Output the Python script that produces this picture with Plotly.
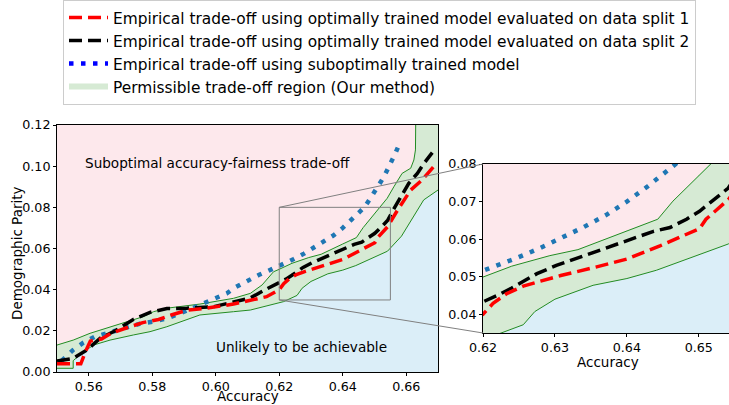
import plotly.graph_objects as go

# ---------------- data ----------------
red_acc = [0.550, 0.5575, 0.5590, 0.5605, 0.5640, 0.5670, 0.5720, 0.5770, 0.5820, 0.5860,
           0.5910, 0.5970, 0.6056, 0.6110, 0.6160, 0.6200, 0.6214, 0.6233, 0.6256, 0.6280,
           0.6308, 0.6358, 0.6400, 0.6446, 0.6501, 0.6510, 0.6541, 0.6572, 0.6614, 0.6650, 0.6685]
red_dp = [0.0040, 0.0040, 0.0100, 0.0150, 0.0160, 0.0188, 0.0215, 0.0240, 0.0255, 0.0277,
          0.0300, 0.0310, 0.0330, 0.0347, 0.0366, 0.0400, 0.0429, 0.0455, 0.0475, 0.0488,
          0.0503, 0.0526, 0.0547, 0.0582, 0.0628, 0.0653, 0.0705, 0.0785, 0.0884, 0.0933, 0.0995]

black_acc = [0.550, 0.5551, 0.5594, 0.5636, 0.5688, 0.5740, 0.5793, 0.5846, 0.5909, 0.5993,
             0.6056, 0.6109, 0.6162, 0.6200, 0.6221, 0.6240, 0.6275, 0.6302, 0.6335, 0.6381,
             0.6408, 0.6436, 0.6460, 0.6483, 0.6501, 0.6525, 0.6541, 0.6556, 0.6582, 0.6608,
             0.6635, 0.6656, 0.6682]
black_dp = [0.0053, 0.0066, 0.0107, 0.0164, 0.0204, 0.0255, 0.0290, 0.0308, 0.0310, 0.0317,
            0.0340, 0.0360, 0.0405, 0.0433, 0.0451, 0.0470, 0.0508, 0.0530, 0.0552, 0.0582,
            0.0600, 0.0620, 0.0631, 0.0653, 0.0674, 0.0710, 0.0736, 0.0779, 0.0844, 0.0917,
            0.0965, 0.1014, 0.1066]

blue_acc = [0.5515, 0.5551, 0.5583, 0.5620, 0.5657, 0.5730, 0.5762, 0.5804, 0.5846, 0.5888,
            0.5950, 0.5993, 0.6035, 0.6061, 0.6098, 0.6135, 0.6172, 0.6212, 0.6246, 0.6278,
            0.6309, 0.6340, 0.6371, 0.6400, 0.6428, 0.6455, 0.6468, 0.6487, 0.6530, 0.6566, 0.6580]
blue_dp = [0.0055, 0.0107, 0.0142, 0.0172, 0.0188, 0.0217, 0.0235, 0.0245, 0.0260, 0.0285,
           0.0328, 0.0352, 0.0382, 0.0411, 0.0444, 0.0471, 0.0496, 0.0523, 0.0549, 0.0575,
           0.0603, 0.0632, 0.0664, 0.0700, 0.0739, 0.0781, 0.0800, 0.0844, 0.0949, 0.1063, 0.1114]

upper_acc = [0.550, 0.5551, 0.5604, 0.5667, 0.5720, 0.5772, 0.5804, 0.5846, 0.5950, 0.6056,
             0.6109, 0.6146, 0.6182, 0.6200, 0.6240, 0.6293, 0.6332, 0.6400, 0.6443, 0.6464,
             0.6515, 0.6540, 0.6561, 0.6587, 0.6614, 0.6624, 0.6629, 0.6630]
upper_dp = [0.0131, 0.0155, 0.0188, 0.0220, 0.0244, 0.0269, 0.0293, 0.0310, 0.0330, 0.0358,
            0.0382, 0.0423, 0.0487, 0.0499, 0.0528, 0.0556, 0.0572, 0.0622, 0.0653, 0.0701,
            0.0800, 0.0844, 0.0900, 0.0965, 0.0990, 0.1030, 0.1079, 0.1250]

lower_acc = [0.550, 0.5551, 0.5551, 0.5578, 0.5615, 0.5667, 0.5741, 0.5793, 0.5846, 0.5909,
             0.5950, 0.6056, 0.6109, 0.6214, 0.6231, 0.6256, 0.6272, 0.6300, 0.6353, 0.6400,
             0.6441, 0.6541, 0.6585, 0.6620, 0.6655, 0.6700]
lower_dp = [0.0018, 0.0018, 0.0055, 0.0091, 0.0131, 0.0155, 0.0180, 0.0196, 0.0220, 0.0253,
            0.0277, 0.0293, 0.0301, 0.0342, 0.0354, 0.0372, 0.0407, 0.0440, 0.0477, 0.0495,
            0.0517, 0.0587, 0.0660, 0.0745, 0.0836, 0.0884]

x_range = [0.55, 0.67]
y_range = [0.0, 0.12]
y_top = 0.125
zoom_x = [0.62, 0.655]
zoom_y = [0.035, 0.08]
inset_x_range = [0.62, 0.6542]

main_ticks_x = [0.56, 0.58, 0.60, 0.62, 0.64, 0.66]
main_ticks_y = [0.00, 0.02, 0.04, 0.06, 0.08, 0.10, 0.12]
inset_ticks_x = [0.62, 0.63, 0.64, 0.65]
inset_ticks_y = [0.04, 0.05, 0.06, 0.07, 0.08]

labels = [
    "Empirical trade-off using optimally trained model evaluated on data split 1",
    "Empirical trade-off using optimally trained model evaluated on data split 2",
    "Empirical trade-off using suboptimally trained model",
    "Permissible trade-off region (Our method)",
]
x_title = "Accuracy"
y_title = "Demographic Parity"

# ---------------- styles ----------------
W, H = 729, 405
FONT = "DejaVu Sans"
PINK = "rgb(253,232,236)"
SKY = "rgb(219,238,248)"
GREENFILL = "rgb(214,234,212)"
GREENLINE = "rgb(34,139,34)"
BLUE = "#1f77b4"

main_xdom = [57 / W, 438 / W]
main_ydom = [(H - 372) / H, (H - 125) / H]
ins_xdom = [483 / W, 1.0]
ins_ydom = [(H - 333) / H, (H - 164) / H]

fig = go.Figure()

# regions (polygons built from the boundary arrays and axis limits)
pink_x = upper_acc + [x_range[0]]
pink_y = upper_dp + [y_top]
sky_x = lower_acc + [x_range[1], x_range[0]]
sky_y = lower_dp + [y_range[0], y_range[0]]
green_x = upper_acc + [x_range[1]] + lower_acc[::-1]
green_y = upper_dp + [y_top] + lower_dp[::-1]

for ax, ay, show in [("x", "y", True), ("x2", "y2", False)]:
    fig.add_trace(go.Scatter(x=pink_x, y=pink_y, fill="toself", fillcolor=PINK, mode="none",
                             showlegend=False, hoverinfo="skip", xaxis=ax, yaxis=ay))
    fig.add_trace(go.Scatter(x=sky_x, y=sky_y, fill="toself", fillcolor=SKY, mode="none",
                             showlegend=False, hoverinfo="skip", xaxis=ax, yaxis=ay))
    fig.add_trace(go.Scatter(x=green_x, y=green_y, fill="toself", fillcolor=GREENFILL, mode="none",
                             name=labels[3], legendrank=4, showlegend=show,
                             hoverinfo="skip", xaxis=ax, yaxis=ay))
    fig.add_trace(go.Scatter(x=upper_acc, y=upper_dp, mode="lines", line=dict(color=GREENLINE, width=1),
                             showlegend=False, xaxis=ax, yaxis=ay))
    fig.add_trace(go.Scatter(x=lower_acc, y=lower_dp, mode="lines", line=dict(color=GREENLINE, width=1),
                             showlegend=False, xaxis=ax, yaxis=ay))
    fig.add_trace(go.Scatter(x=blue_acc, y=blue_dp, mode="lines",
                             line=dict(color=BLUE, width=4.5, dash="4.5px,7.5px"),
                             name=labels[2], showlegend=False, xaxis=ax, yaxis=ay))
    fig.add_trace(go.Scatter(x=black_acc, y=black_dp, mode="lines",
                             line=dict(color="black", width=3.5, dash="13px,6px"),
                             name=labels[1], legendrank=2, showlegend=show, xaxis=ax, yaxis=ay))
    fig.add_trace(go.Scatter(x=red_acc, y=red_dp, mode="lines",
                             line=dict(color="red", width=3.5, dash="13px,6px"),
                             name=labels[0], legendrank=1, showlegend=show, xaxis=ax, yaxis=ay))

# legend entry for blue dotted line (pure blue like the reference legend)
fig.add_trace(go.Scatter(x=[None], y=[None], mode="lines",
                         line=dict(color="blue", width=4.5, dash="4.5px,7.5px"),
                         name=labels[2], legendrank=3, showlegend=True))


def to_paper(v, dom, rng):
    return dom[0] + (v - rng[0]) / (rng[1] - rng[0]) * (dom[1] - dom[0])


GRAY = "rgb(128,128,128)"
shapes = [
    dict(type="rect", xref="x", yref="y", x0=zoom_x[0], x1=zoom_x[1], y0=zoom_y[0], y1=zoom_y[1],
         line=dict(color=GRAY, width=1), layer="above"),
    dict(type="line", xref="paper", yref="paper",
         x0=to_paper(zoom_x[0], main_xdom, x_range), y0=to_paper(zoom_y[1], main_ydom, y_range),
         x1=ins_xdom[0], y1=ins_ydom[1], line=dict(color=GRAY, width=1), layer="above"),
    dict(type="line", xref="paper", yref="paper",
         x0=to_paper(zoom_x[0], main_xdom, x_range), y0=to_paper(zoom_y[0], main_ydom, y_range),
         x1=ins_xdom[0], y1=ins_ydom[0], line=dict(color=GRAY, width=1), layer="above"),
]

tickfont = dict(family=FONT, size=12.7, color="black")
titlefont = dict(family=FONT, size=13.5, color="black")

common = dict(ticks="outside", ticklen=3, tickcolor="black", showline=True, linecolor="black",
              linewidth=1, zeroline=False, tickfont=tickfont, automargin=False, tickformat=".2f")

fig.update_layout(
    width=W, height=H,
    margin=dict(l=0, r=0, t=0, b=0, autoexpand=False),
    paper_bgcolor="white", plot_bgcolor="white",
    font=dict(family=FONT, color="black"),
    shapes=shapes,
    showlegend=True,
    legend=dict(x=63 / W, y=1.0, xanchor="left", yanchor="top",
                bordercolor="#cccccc", borderwidth=1, bgcolor="white",
                font=dict(family=FONT, size=15.4, color="black"),
                itemwidth=39),
    xaxis=dict(domain=main_xdom, range=x_range, tickvals=main_ticks_x, mirror=True, showgrid=False,
               anchor="y", **common),
    yaxis=dict(domain=main_ydom, range=y_range, tickvals=main_ticks_y, mirror=True, showgrid=False,
               anchor="x", **common),
    xaxis2=dict(domain=ins_xdom, range=inset_x_range, tickvals=inset_ticks_x, mirror=True,
                showgrid=True, gridcolor="rgb(176,176,176)", gridwidth=1, anchor="y2", **common),
    yaxis2=dict(domain=ins_ydom, range=zoom_y, tickvals=inset_ticks_y, mirror=False,
                showgrid=True, gridcolor="rgb(176,176,176)", gridwidth=1, anchor="x2", **common),
    annotations=[
        # axis titles
        dict(text=x_title, xref="paper", yref="paper", x=sum(main_xdom) / 2, y=0,
             xanchor="center", yanchor="bottom", showarrow=False, font=titlefont, borderpad=0),
        dict(text=y_title, xref="paper", yref="paper", x=17 / W, y=(H - 254) / H,
             xanchor="center", yanchor="middle", textangle=-90, showarrow=False, font=titlefont,
             borderpad=0),
        dict(text=x_title, xref="paper", yref="paper", x=608 / W, y=(H - 362) / H,
             xanchor="center", yanchor="middle", showarrow=False, font=titlefont, borderpad=0),
        # region labels
        dict(text="Suboptimal accuracy-fairness trade-off", x=0.5582, y=0.1015, xref="x", yref="y",
             xanchor="left", yanchor="middle", showarrow=False,
             font=dict(family=FONT, size=13.6, color="black")),
        dict(text="Unlikely to be achievable", x=0.6271, y=0.012, xref="x", yref="y",
             xanchor="center", yanchor="middle", showarrow=False,
             font=dict(family=FONT, size=13.6, color="black")),
    ],
)

fig.write_html("out.html", config={"displayModeBar": False},
               post_script="document.body.style.margin='0';document.body.style.padding='0';")
